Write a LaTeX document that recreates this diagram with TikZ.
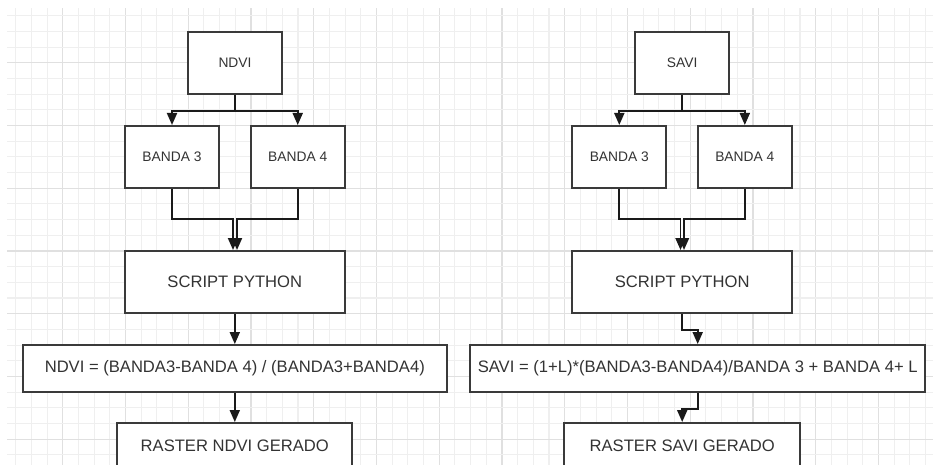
\documentclass[tikz,border=0pt]{standalone}
\usepackage{fontspec}
\setmainfont{Liberation Sans}
\usetikzlibrary{arrows.meta}
\definecolor{gridminor}{HTML}{EFEFEF}
\definecolor{gridmajor}{HTML}{E0E0E0}
\definecolor{boxline}{HTML}{3A3A3A}
\definecolor{txt}{HTML}{333333}
\definecolor{wire}{HTML}{1A1A1A}
\tikzset{
  box/.style={draw=boxline, line width=2pt, fill=white, text=txt, inner sep=0pt, align=center},
  smallbox/.style={box, minimum width=94pt, minimum height=62pt, font=\fontsize{13.8}{16}\selectfont},
  bigbox/.style={box, font=\fontsize{16.6}{19}\selectfont},
  wirestyle/.style={draw=wire, line width=1.9pt},
  arr/.style={wirestyle, -{Triangle[length=12pt,width=10pt]}},
}
\begin{document}
\begin{tikzpicture}[x=1pt, y=-1pt]
  \clip (0,0) rectangle (933,465);
  \fill[white] (0,0) rectangle (933,465);
  % background grid
  \begin{scope}
    \clip (7,9) rectangle (933,465);
    \foreach \i in {0,...,60} {
      \pgfmathtruncatemacro{\m}{mod(\i,4)}
      \ifnum\m=0
        \draw[gridmajor, line width=1.2pt] (\i*15.686,0) -- (\i*15.686,465);
      \else
        \draw[gridminor, line width=1.1pt] (\i*15.686,0) -- (\i*15.686,465);
      \fi
    }
    \foreach \j in {0,...,30} {
      \pgfmathtruncatemacro{\m}{mod(\j,4)}
      \ifnum\m=0
        \draw[gridmajor, line width=1.2pt] (0,\j*15.686) -- (933,\j*15.686);
      \else
        \draw[gridminor, line width=1.1pt] (0,\j*15.686) -- (933,\j*15.686);
      \fi
    }
  \end{scope}

  % NDVI flow
  \node[smallbox] (ndvi) at (235,63) {NDVI};
  \node[smallbox] (lb3) at (172,157) {BANDA 3};
  \node[smallbox] (lb4) at (297.7,157) {BANDA 4};
  \node[bigbox, minimum width=219.5pt, minimum height=62pt] (lscript) at (234.8,282) {SCRIPT PYTHON};
  \node[bigbox, minimum width=423.7pt, minimum height=47.3pt] (lform) at (234.8,368.7) {NDVI = (BANDA3-BANDA 4) / (BANDA3+BANDA4)};
  \node[bigbox, minimum width=235pt, minimum height=46pt] (lraster) at (234.8,446) {RASTER NDVI GERADO};

  \draw[arr] (ndvi.south) -- ++(0,16) -| (lb3.north);
  \draw[arr] (ndvi.south) -- ++(0,16) -| (lb4.north);
  \coordinate (lmA) at (233,219.3);
  \coordinate (lmB) at (237,219.3);
  \draw[arr] (lb3.south) |- (lmA) -- (lmA |- lscript.north);
  \draw[arr] (lb4.south) |- (lmB) -- (lmB |- lscript.north);
  \draw[arr] (lscript.south) -- (lform.north);
  \draw[arr] (lform.south) -- (lraster.north);

  % SAVI flow
  \node[smallbox] (savi) at (682.2,63) {SAVI};
  \node[smallbox] (rb3) at (619.3,157) {BANDA 3};
  \node[smallbox] (rb4) at (744.8,157) {BANDA 4};
  \node[bigbox, minimum width=219.7pt, minimum height=62pt] (rscript) at (682.2,282) {SCRIPT PYTHON};
  \node[bigbox, minimum width=455.3pt, minimum height=47.3pt] (rform) at (697.7,368.7) {SAVI = (1+L)*(BANDA3-BANDA4)/BANDA 3 + BANDA 4+ L};
  \node[bigbox, minimum width=235.7pt, minimum height=46pt] (rraster) at (682.2,446) {RASTER SAVI GERADO};

  \draw[arr] (savi.south) -- ++(0,16) -| (rb3.north);
  \draw[arr] (savi.south) -- ++(0,16) -| (rb4.north);
  \coordinate (rmA) at (680.5,219.3);
  \coordinate (rmB) at (684,219.3);
  \draw[arr] (rb3.south) |- (rmA) -- (rmA |- rscript.north);
  \draw[arr] (rb4.south) |- (rmB) -- (rmB |- rscript.north);
  \draw[arr] (rscript.south) -- ++(0,16) -| (rform.north);
  \draw[arr] (rform.south) -- ++(0,15.4) -| (rraster.north);
\end{tikzpicture}
\end{document}
